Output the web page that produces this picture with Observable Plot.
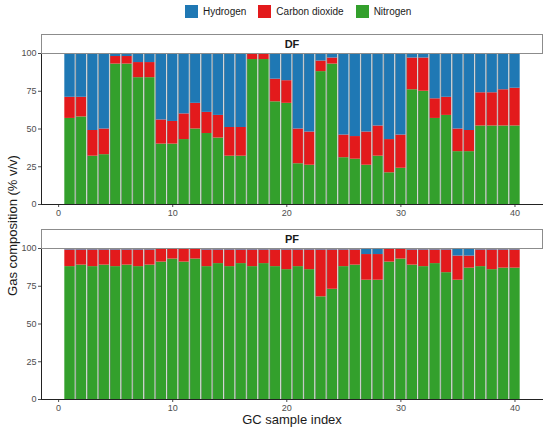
<!DOCTYPE html>
<html>
<head>
<meta charset="utf-8">
<script src="https://cdn.jsdelivr.net/npm/d3@7"></script>
<script src="https://cdn.jsdelivr.net/npm/@observablehq/plot@0.6"></script>
<style>
  body { margin: 0; background: #fff; }
  #fig { position: relative; width: 550px; height: 433px; font-family: "Liberation Sans", Arial, sans-serif; overflow: hidden; }
  .abs { position: absolute; }
  .strip { position: absolute; box-sizing: border-box; border: 1px solid #8c8c8c; background: #fff; font-weight: bold; font-size: 11px; text-align: center; color: #1a1a1a; }
  #legend { position: absolute; top: 5px; left: 185px; display: flex; align-items: center; font-size: 10px; color: #1a1a1a; white-space: nowrap; }
  #legend .sw { width: 13px; height: 13px; margin-right: 5px; }
  #legend .lab { margin-right: 12px; }
</style>
</head>
<body>
<div id="fig"></div>
<script>
const idx = d3.range(1, 41);
const gases = ["Hydrogen", "Carbon dioxide", "Nitrogen"];
const gasColors = ["#1F78B4", "#E31A1C", "#33A02C"];
const xTicks = [0, 10, 20, 30, 40];
const yTicks = [0, 25, 50, 75, 100];
const panels = ["DF", "PF"];

// DF panel (% v/v)
const dfNitrogen = [57,58,32,33,93,93,84,84,40,40,43,50,47,44,32,32,96,96,68,67,27,26,88,93,31,30,26,32,21,24,76,75,57,59,35,35,52,52,52,52];
const dfCO2      = [14,13,17,17,5,5,10,10,16,15,17,17,14,15,19,19,4,4,15,15,23,22,7,4,15,15,22,20,22,22,21,22,13,12,15,14,22,22,24,25];
const dfHydrogen = [29,29,51,50,2,2,6,6,44,45,40,33,39,41,49,49,0,0,17,18,50,52,5,3,54,55,52,48,57,54,3,3,30,29,50,51,26,26,24,23];

// PF panel (% v/v)
const pfNitrogen = [88,89,88,89,88,89,88,89,91,93,91,93,88,90,88,90,88,90,88,86,88,86,68,73,88,89,79,79,91,93,89,88,90,84,79,87,88,86,87,87];
const pfCO2      = [11,10,11,10,11,10,11,10,9,7,9,7,11,9,11,9,11,9,11,13,11,13,31,26,11,10,17,17,9,7,10,11,9,15,16,8,11,13,12,12];
const pfHydrogen = [1,1,1,1,1,1,1,1,0,0,0,0,1,1,1,1,1,1,1,1,1,1,1,1,1,1,4,4,0,0,1,1,1,1,5,5,1,1,1,1];

const fig = document.getElementById("fig");

// legend
const legend = document.createElement("div");
legend.id = "legend";
gases.forEach((g, k) => {
  const sw = document.createElement("div");
  sw.className = "sw"; sw.style.background = gasColors[k];
  const lab = document.createElement("div");
  lab.className = "lab"; lab.textContent = g;
  legend.appendChild(sw); legend.appendChild(lab);
});
fig.appendChild(legend);

function panel(N, C, H) {
  const data = idx.flatMap((i, k) => [
    {idx: i, gas: "Nitrogen", value: N[k]},
    {idx: i, gas: "Carbon dioxide", value: C[k]},
    {idx: i, gas: "Hydrogen", value: H[k]}
  ]);
  return Plot.plot({
    width: 550, height: 176,
    marginLeft: 41, marginRight: 7, marginTop: 5, marginBottom: 20,
    style: {fontFamily: "Liberation Sans, Arial, sans-serif", fontSize: "9px", color: "#4d4d4d", background: "transparent", overflow: "visible"},
    x: {domain: [-1.5, 42.5], ticks: xTicks, tickSize: 3, tickPadding: 2, label: null},
    y: {domain: [0, 100], ticks: yTicks, tickSize: 3, tickPadding: 2, label: null},
    color: {domain: gases, range: gasColors},
    marks: [
      Plot.rectY(data, Plot.stackY({
        x1: d => d.idx - 0.5, x2: d => d.idx + 0.5, y: "value", fill: "gas",
        order: ["Nitrogen", "Carbon dioxide", "Hydrogen"], insetLeft: 0.5, insetRight: 0.5
      })),
      Plot.ruleX(idx.slice(1), {x: d => d - 0.5, y1: 0, y2: 100, stroke: "#8a8a8a", strokeWidth: 0.7}),
      Plot.ruleX([-1.5], {stroke: "#222"}),
      Plot.ruleY([0], {stroke: "#222"})
    ]
  });
}

const tops = [48, 243];
const stripTops = [34, 229];
const series = [[dfNitrogen, dfCO2, dfHydrogen], [pfNitrogen, pfCO2, pfHydrogen]];
panels.forEach((p, k) => {
  const svg = panel(...series[k]);
  svg.classList.add("abs");
  svg.style.left = "0px";
  svg.style.top = tops[k] + "px";
  fig.appendChild(svg);
  const s = document.createElement("div");
  s.className = "strip";
  s.style.left = "41px"; s.style.top = stripTops[k] + "px";
  s.style.width = "502px"; s.style.height = "20px"; s.style.lineHeight = "18px";
  s.textContent = p;
  fig.appendChild(s);
});

// axis titles
const xt = document.createElement("div");
xt.className = "abs";
xt.textContent = "GC sample index";
xt.style.cssText += "left:192px;width:200px;text-align:center;top:412px;font-size:13px;color:#1a1a1a;";
fig.appendChild(xt);

const yt = document.createElement("div");
yt.className = "abs";
yt.textContent = "Gas composition (% v/v)";
yt.style.cssText += "left:-88px;top:218px;width:200px;text-align:center;font-size:13px;color:#1a1a1a;transform:rotate(-90deg);line-height:15px;";
fig.appendChild(yt);
</script>
</body>
</html>
